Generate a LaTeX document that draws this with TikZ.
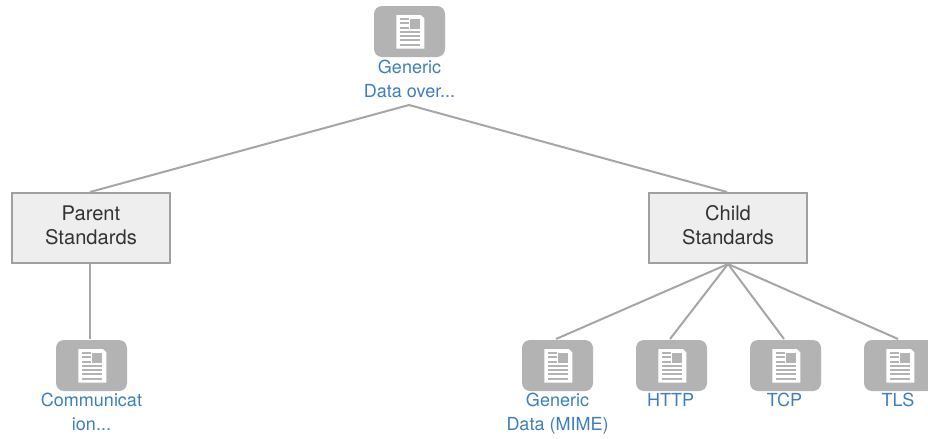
\documentclass[tikz,border=0pt]{standalone}
\usepackage{fontspec}
\setmainfont{TeX Gyre Heros}
\definecolor{linkblue}{HTML}{3D7EBB}
\definecolor{icongray}{HTML}{B3B3B3}
\definecolor{linegray}{HTML}{A6A6A6}
\definecolor{boxfill}{HTML}{EEEEEE}
\definecolor{boxline}{HTML}{A0A0A0}
\definecolor{boxtext}{HTML}{333333}

\begin{document}
\begin{tikzpicture}[x=0.75pt, y=-0.75pt, line width=1.5pt,
            stdbox/.style ={rectangle, draw=boxline, fill=boxfill, text=boxtext, minimum width=118.5pt,
            minimum height=52.5pt, align=center, font=\fontsize{15.1}{18}\selectfont, line width=1.5pt},
            tile/.style ={rectangle, rounded corners=6pt, fill=icongray, minimum width=53.25pt, minimum height=38.25pt, inner sep=0pt},
            caption/.style ={text=linkblue, align=center, anchor=north, inner sep=0pt, font=\fontsize{13.5}{18}\selectfont},
            link/.style ={draw=linegray, line width=1.5pt},
            doc/.pic ={
                \fill[white] (-13.2,-16.5) -- (11.3,-16.5) -- (14.8,-13) -- (14.8,17) -- (-13.2,17) -- cycle;
                \fill[icongray] (0.2,-12.8) rectangle (10.2,-2.8);
                \foreach \y in {-12.2,-8.2,-3.8}
                    \fill[icongray] (-9.2,\y-0.9) rectangle (-0.8,\y+0.9);
                \foreach \y in {0.2,4.5,8.8,13.2}
                    \fill[icongray] (-9.2,\y-0.9) rectangle (10.2,\y+0.9);
            }]
        \useasboundingbox (0,0) rectangle (928,439);

        %tiles, with the caption below
        \node[tile] (top) at (409.5,31.5) {};
        \pic at (top.center) {doc};
        \node[caption] (topcap) at (409.5,55.2) {Generic\strut\\Data over...\strut};

        \node[stdbox] (parent) at (91,228) {Parent\strut\\Standards\strut};
        \node[stdbox] (child) at (728,228) {Child\strut\\Standards\strut};
        \coordinate (apex) at (409,105);

        \node[tile] (comm) at (91.5,365.5) {};
        \pic at (comm.center) {doc};
        \node[caption] (commcap) at (91.5,388.4) {Communicat\strut\\ion...\strut};

        \node[tile] (mime) at (557.5,365.5) {};
        \pic at (mime.center) {doc};
        \node[caption] (mimecap) at (557.5,388.4) {Generic\strut\\Data (MIME)\strut};

        \node[tile] (http) at (671.5,365.5) {};
        \pic at (http.center) {doc};
        \node[caption] (httpcap) at (670.5,388.4) {HTTP\strut};

        \node[tile] (tcp) at (785.5,365.5) {};
        \pic at (tcp.center) {doc};
        \node[caption] (tcpcap) at (784.5,388.4) {TCP\strut};

        \begin{scope}
            \clip (0,0) rectangle (928,439);
            \node[tile] (tls) at (899.5,365.5) {};
            \pic at (tls.center) {doc};
        \end{scope}
        \node[caption] (tlscap) at (898,388.4) {TLS\strut};

        \path[link] (apex) -- ([xshift=-0.75pt]parent.north);
        \path[link] (apex) -- ([xshift=-0.75pt]child.north);
        \path[link] ([xshift=-0.75pt]parent.south) -- ([xshift=-1.125pt]comm.north);
        \path[link] (child.south) -- ([xshift=-1.1pt]mime.north);
        \path[link] (child.south) -- ([xshift=-1.1pt]http.north);
        \path[link] (child.south) -- ([xshift=-1.1pt]tcp.north);
        \path[link] (child.south) -- ([xshift=-1.1pt]tls.north);
\end{tikzpicture}
\end{document}
